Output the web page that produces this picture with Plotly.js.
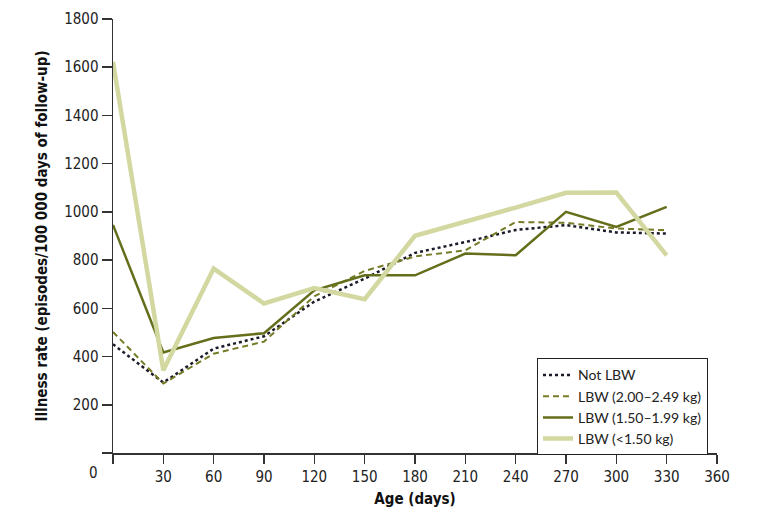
<!DOCTYPE html>
<html>
<head>
<meta charset="utf-8">
<script src="https://cdn.plot.ly/plotly-3.0.1.min.js"></script>
<style>html,body{margin:0;padding:0;background:#fff;}#chart{width:771px;height:517px;}</style>
</head>
<body>
<div id="chart"></div>
<script>
const ageDays = [0, 30, 60, 90, 120, 150, 180, 210, 240, 270, 300, 330];
const notLBW = [451, 292, 433, 484, 628, 723, 830, 875, 925, 945, 915, 910];
const lbw200to249 = [502, 288, 412, 462, 650, 755, 815, 841, 958, 955, 931, 924];
const lbw150to199 = [946, 417, 477, 497, 675, 737, 737, 827, 820, 1000, 938, 1021];
const lbwUnder150 = [1622, 343, 765, 620, 684, 638, 901, 958, 1018, 1079, 1080, 820];
const seriesNames = ["Not LBW", "LBW (2.00–2.49 kg)", "LBW (1.50–1.99 kg)", "LBW (<1.50 kg)"];
const xTickVals = [0, 30, 60, 90, 120, 150, 180, 210, 240, 270, 300, 330, 360];
const xTickText = ["", "30", "60", "90", "120", "150", "180", "210", "240", "270", "300", "330", "360"];
const yTickVals = [0, 200, 400, 600, 800, 1000, 1200, 1400, 1600, 1800];
const yTickText = ["", "200", "400", "600", "800", "1000", "1200", "1400", "1600", "1800"];

const narrow = "'DejaVu Sans Condensed', sans-serif";
const axisColor = "#333333";

const traces = [
  {x: ageDays, y: notLBW, name: seriesNames[0], mode: "lines",
   line: {color: "#1b1b2a", width: 2.5, dash: "dot"}},
  {x: ageDays, y: lbw200to249, name: seriesNames[1], mode: "lines",
   line: {color: "#767b26", width: 2, dash: "6px,4px"}},
  {x: ageDays, y: lbw150to199, name: seriesNames[2], mode: "lines",
   line: {color: "#646e1b", width: 2.5}},
  {x: ageDays, y: lbwUnder150, name: seriesNames[3], mode: "lines",
   line: {color: "#d3d8a1", width: 4.5}}
];

const layout = {
  width: 771, height: 517,
  margin: {l: 113, r: 54, t: 19, b: 64},
  paper_bgcolor: "#ffffff", plot_bgcolor: "#ffffff",
  font: {family: narrow, size: 15, color: "#222222"},
  showlegend: true,
  legend: {
    x: 0.702, y: 0.218, xanchor: "left", yanchor: "top",
    bgcolor: "#ffffff", bordercolor: "#222222", borderwidth: 1,
    font: {family: "Lato, 'Open Sans', sans-serif", size: 14, color: "#222222"},
    tracegroupgap: 0, itemwidth: 30
  },
  xaxis: {
    range: [0, 360], tickvals: xTickVals, ticktext: xTickText,
    showline: true, linecolor: axisColor, linewidth: 1.5,
    ticks: "outside", ticklen: 9, tickwidth: 1.5, tickcolor: axisColor,
    showgrid: false, zeroline: false,
    tickfont: {family: narrow, size: 15, color: "#222222"},
    title: {text: "<b>Age (days)</b>", font: {family: narrow, size: 15, color: "#111111"}, standoff: 9}
  },
  yaxis: {
    range: [0, 1800], tickvals: yTickVals, ticktext: yTickText,
    showline: true, linecolor: axisColor, linewidth: 1.5,
    ticks: "outside", ticklen: 10, tickwidth: 1.5, tickcolor: axisColor,
    showgrid: false, zeroline: false,
    tickfont: {family: narrow, size: 15, color: "#222222"},
    title: {text: "<b>Illness rate (episodes/100 000 days of follow-up)</b>", font: {family: narrow, size: 15, color: "#111111"}, standoff: 13}
  },
  annotations: [{
    text: "0", xref: "paper", yref: "paper", x: -0.033, y: -0.046,
    xanchor: "center", yanchor: "middle", showarrow: false,
    font: {family: narrow, size: 15, color: "#222222"}
  }]
};

Plotly.newPlot("chart", traces, layout, {staticPlot: true, displayModeBar: false});
</script>
</body>
</html>
